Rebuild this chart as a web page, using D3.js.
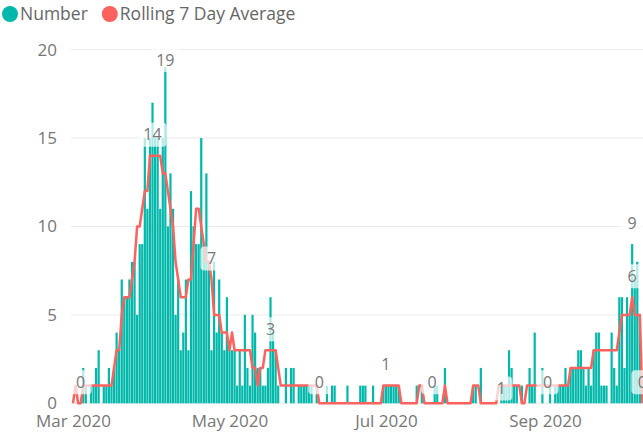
<!DOCTYPE html>
<html>
<head>
<meta charset="utf-8">
<script src="https://cdn.jsdelivr.net/npm/d3@7"></script>
<style>
  body { margin: 0; background: #fff; }
  text { font-family: "Segoe UI", "Open Sans", sans-serif; }
</style>
</head>
<body>
<div id="chart"></div>
<script>
// daily values, first entry is 1 Mar 2020
var startDate = new Date(2020, 2, 1);

var numberValues = [
  0,0,0,0,2,1,0,1,1,2,        // Mar 1-10
  3,0,1,1,2,1,2,4,3,7,
  6,6,7,8,8,5,9,9,15,11,
  15,17,15,15,11,15,19,10,13,11, // Mar 31 - Apr 9
  5,7,3,4,7,3,12,10,9,9,
  15,9,13,8,3,8,4,7,4,3,
  6,3,3,3,1,3,1,5,2,1,        // Apr 30 - May 9
  5,4,2,2,1,1,2,6,4,3,
  1,0,0,2,0,2,2,0,1,1,
  1,1,1,1,0,1,0,0,0,1,        // May 30 - Jun 8
  0,1,1,0,0,0,0,1,0,0,
  0,0,1,1,1,0,0,1,0,0,
  0,1,1,1,1,1,1,1,0,0,        // Jun 29 - Jul 8
  0,0,0,0,1,0,1,0,0,0,
  0,1,1,0,0,2,0,0,0,0,
  0,0,0,0,0,0,1,1,0,2,        // Jul 29 - Aug 7
  0,0,0,0,0,0,0,1,1,1,
  3,2,1,1,0,1,0,0,2,1,
  4,0,0,2,0,0,1,0,1,1,        // Aug 28 - Sep 6
  1,1,2,1,2,2,2,3,3,2,
  1,2,1,3,4,4,1,1,1,0,
  4,2,1,6,6,2,6,5,9,7,        // Sep 27 - Oct 6
  8,5,0
];

var rollingValues = [
  0,1,0,0,1,1,1,1,1,1,
  1,1,1,1,1,1,2,3,3,5,
  6,6,6,7,8,10,10,11,12,12,
  14,14,14,14,14,13,13,12,11,10,
  8,7,6,6,6,7,7,9,11,11,
  10,9,8,8,7,5,5,5,4,4,
  4,3,4,3,3,3,3,3,3,3,
  2,2,1,2,2,3,3,3,3,3,
  2,1,1,1,1,1,1,1,1,1,
  1,1,1,1,1,1,0,0,0,0,
  0,0,0,0,0,0,0,0,0,0,
  0,0,0,0,0,0,0,0,0,0,
  0,1,1,1,1,1,1,1,0,0,
  0,0,0,0,0,1,1,0,0,0,
  0,0,0,0,0,1,0,0,0,0,
  0,0,0,0,0,0,1,1,1,0,
  0,0,0,0,0,0,1,1,1,1,
  1,1,1,1,1,0,0,1,1,1,
  1,1,1,1,1,1,1,1,1,1,
  1,1,1,1,2,2,2,2,2,2,
  2,2,2,3,3,3,3,3,3,3,
  3,3,3,4,5,5,5,5,6,5,
  5,5,0
];

var yTicks = [0, 5, 10, 15, 20];
var xTickDates = ["2020-03-01", "2020-05-01", "2020-07-01", "2020-09-01"];
var seriesNames = ["Number", "Rolling 7 Day Average"];

// data labels shown on the chart
var labelPoints = [
  {date: "2020-03-04", series: "rolling"},
  {date: "2020-04-01", series: "rolling"},
  {date: "2020-04-06", series: "number"},
  {date: "2020-04-24", series: "rolling"},
  {date: "2020-05-17", series: "rolling"},
  {date: "2020-06-05", series: "rolling"},
  {date: "2020-07-01", series: "rolling"},
  {date: "2020-07-19", series: "rolling"},
  {date: "2020-08-15", series: "rolling"},
  {date: "2020-09-02", series: "number"},
  {date: "2020-10-05", series: "number"},
  {date: "2020-10-05", series: "rolling"},
  {date: "2020-10-09", series: "rolling"}
];

var colors = {number: "#01B8AA", rolling: "#FD625E"};
var width = 643, height = 434;
var fontSize = "17px";

var parse = d3.timeParse("%Y-%m-%d");
var days = numberValues.map(function(v, i) {
  return {date: d3.timeDay.offset(startDate, i), number: v, rolling: rollingValues[i]};
});

var svg = d3.select("#chart")
  .append("svg")
    .attr("width", width)
    .attr("height", height);

var x = d3.scaleTime()
  .domain([startDate, new Date(2020, 9, 10)])
  .range([73, 73 + 223 * 2.565]);

var y = d3.scaleLinear()
  .domain([0, 20])
  .range([403.3, 49.6]);

// gridlines
svg.append("g")
  .selectAll("line")
  .data(yTicks)
  .enter().append("line")
    .attr("x1", 71).attr("x2", width)
    .attr("y1", function(d) { return y(d); })
    .attr("y2", function(d) { return y(d); })
    .attr("stroke", "#ebebeb")
    .attr("stroke-width", 1);

// y axis
var yAxis = svg.append("g")
  .attr("transform", "translate(60,0)")
  .call(d3.axisLeft(y).tickValues(yTicks).tickSize(0).tickPadding(3));
yAxis.select(".domain").remove();
yAxis.selectAll("text")
  .attr("fill", "#777")
  .style("font-size", fontSize);

// x axis
var xAxis = svg.append("g")
  .attr("transform", "translate(0,409)")
  .call(d3.axisBottom(x)
    .tickValues(xTickDates.map(parse))
    .tickFormat(d3.timeFormat("%b %Y"))
    .tickSize(0).tickPadding(6));
xAxis.select(".domain").remove();
xAxis.selectAll("text")
  .attr("fill", "#777")
  .style("font-size", fontSize);

// bars
var barW = 2.2;
svg.append("g")
  .selectAll("rect")
  .data(days)
  .enter().append("rect")
    .attr("x", function(d) { return x(d.date) - barW / 2; })
    .attr("width", barW)
    .attr("y", function(d) { return y(d.number); })
    .attr("height", function(d) { return y(0) - y(d.number); })
    .attr("fill", colors.number);

// rolling average line
svg.append("path")
  .datum(days)
  .attr("fill", "none")
  .attr("stroke", colors.rolling)
  .attr("stroke-width", 2.5)
  .attr("stroke-linejoin", "round")
  .attr("d", d3.line()
    .x(function(d) { return x(d.date); })
    .y(function(d) { return y(d.rolling); })
  );

// data labels
var centerLabels = ["2020-08-15"];
var lab = svg.append("g")
  .selectAll("g")
  .data(labelPoints)
  .enter().append("g")
    .attr("transform", function(d) {
      var dt = parse(d.date);
      var row = days[d3.timeDay.count(startDate, dt)];
      var v = row[d.series];
      var ly = centerLabels.indexOf(d.date) >= 0 ? y(v) + 3 : Math.max(y(v) - 21, 60);
      d.text = String(v);
      return "translate(" + x(dt) + "," + ly + ")";
    });

lab.append("rect")
  .attr("x", function(d) { return d.text.length > 1 ? -14 : -11; })
  .attr("width", function(d) { return d.text.length > 1 ? 28 : 22; })
  .attr("y", -12)
  .attr("height", 24)
  .attr("rx", 4)
  .attr("fill", "#fff")
  .attr("fill-opacity", 0.7);

lab.append("text")
  .attr("text-anchor", "middle")
  .attr("dy", "0.35em")
  .attr("fill", "#777")
  .style("font-size", "16px")
  .text(function(d) { return d.text; });

// legend
var legend = svg.append("g");
var lx = 10;
seriesNames.forEach(function(name, i) {
  legend.append("circle")
    .attr("cx", lx).attr("cy", 14).attr("r", 8)
    .attr("fill", i === 0 ? colors.number : colors.rolling);
  var t = legend.append("text")
    .attr("x", lx + 10).attr("y", 20)
    .attr("fill", "#666")
    .style("font-size", "17.5px")
    .text(name);
  lx += 10 + t.node().getComputedTextLength() + 22;
});
</script>
</body>
</html>
